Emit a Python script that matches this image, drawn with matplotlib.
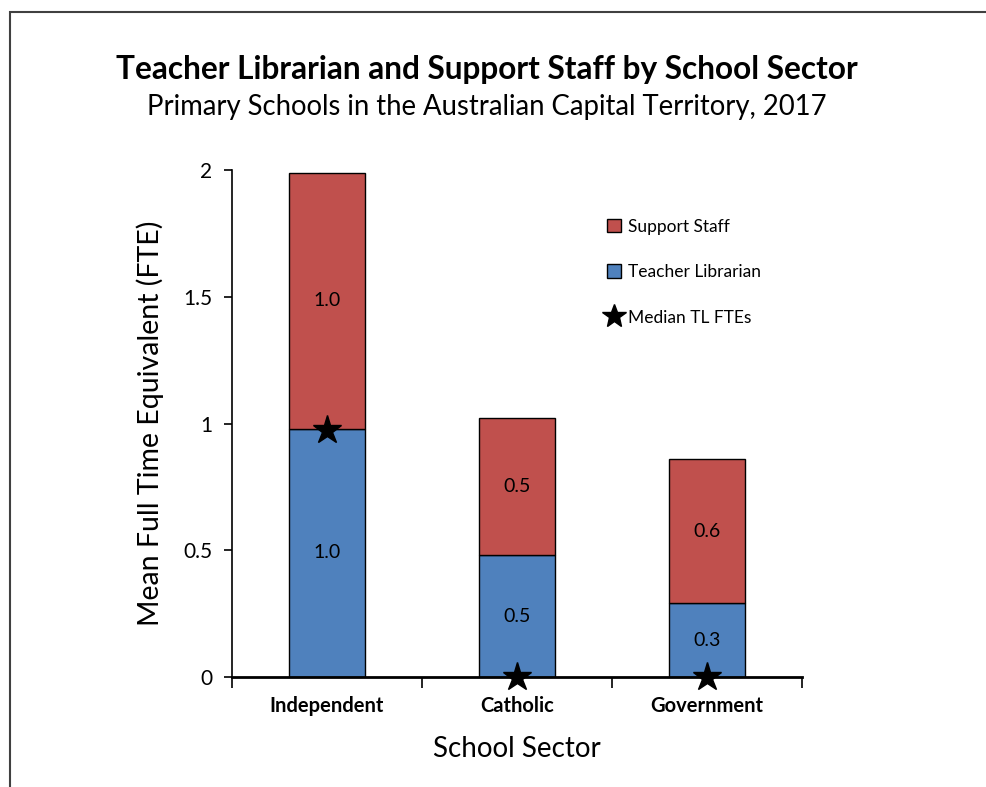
import matplotlib
matplotlib.use("Agg")
import matplotlib.pyplot as plt
from matplotlib.patches import Rectangle, Patch
from matplotlib.lines import Line2D
from matplotlib.ticker import FuncFormatter, FixedLocator

plt.rcParams['font.family'] = ['Lato', 'DejaVu Sans']

# data
sectors = ["Independent", "Catholic", "Government"]
teacher_librarian = [0.98, 0.48, 0.29]
support_staff = [1.01, 0.54, 0.57]
median_tl = [0.975, 0.0, 0.0]

red = "#C0504D"
blue = "#4F81BD"

fig = plt.figure(figsize=(9.86, 7.87), dpi=100)
ax = fig.add_axes([232 / 986, 1 - 677 / 787, 570 / 986, 507 / 787])

x = list(range(len(sectors)))
ax.bar(x, teacher_librarian, width=0.4, color=blue, edgecolor="black", linewidth=1)
ax.bar(x, support_staff, width=0.4, bottom=teacher_librarian, color=red,
       edgecolor="black", linewidth=1)

# segment labels
for i in x:
    tl = teacher_librarian[i]
    ss = support_staff[i]
    ax.text(i, tl / 2, f"{tl:.1f}", ha="center", va="center", fontsize=14)
    ax.text(i, tl + ss / 2, f"{ss:.1f}", ha="center", va="center", fontsize=14)

ax.plot(x, median_tl, linestyle="none", marker="*", color="black",
        markersize=21, clip_on=False, zorder=5)

ax.set_xlim(-0.5, 2.5)
ax.set_ylim(0, 2)
ax.set_yticks([0, 0.5, 1, 1.5, 2])
ax.yaxis.set_major_formatter(FuncFormatter(lambda v, p: f"{v:g}"))
ax.tick_params(axis="y", direction="out", length=6, width=1.2, labelsize=15, pad=8)

# category labels sit between boundary ticks
ax.xaxis.set_major_locator(FixedLocator([-0.5, 0.5, 1.5, 2.5]))
ax.xaxis.set_major_formatter(FuncFormatter(lambda v, p: ""))
ax.set_xticks(x, minor=True)
ax.set_xticklabels(sectors, minor=True, fontweight="bold", fontsize=14.5)
ax.tick_params(axis="x", which="major", direction="out", length=8, width=1.2)
ax.tick_params(axis="x", which="minor", length=0, pad=14)

for s in ["top", "right"]:
    ax.spines[s].set_visible(False)
ax.spines["left"].set_linewidth(1.2)
ax.spines["bottom"].set_linewidth(2)

ax.set_ylabel("Mean Full Time Equivalent (FTE)", fontsize=20.5, labelpad=14)
ax.set_xlabel("School Sector", fontsize=20, labelpad=14)

fig.text(487 / 986, 1 - 70 / 787, "Teacher Librarian and Support Staff by School Sector",
         ha="center", va="center", fontsize=22.8, fontweight="bold")
fig.text(487 / 986, 1 - 107 / 787, "Primary Schools in the Australian Capital Territory, 2017",
         ha="center", va="center", fontsize=19.8)

handles = [
    Patch(facecolor=red, edgecolor="black", label="Support Staff"),
    Patch(facecolor=blue, edgecolor="black", label="Teacher Librarian"),
    Line2D([], [], linestyle="none", marker="*", color="black", markersize=18,
           label="Median TL FTEs"),
]
ax.legend(handles=handles, loc="upper left", bbox_to_anchor=(0.63, 0.935),
          frameon=False, fontsize=12.5, handlelength=0.8, handleheight=0.8,
          handletextpad=0.4, labelspacing=1.7)

# outer chart frame, cut by the image edge on the right and bottom
fig.patches.append(Rectangle((10 / 986, -0.1), 1.2, 1.1 - 12 / 787,
                             transform=fig.transFigure, fill=False,
                             edgecolor="#404040", linewidth=1.5))

fig.savefig("out.png", dpi=100)
